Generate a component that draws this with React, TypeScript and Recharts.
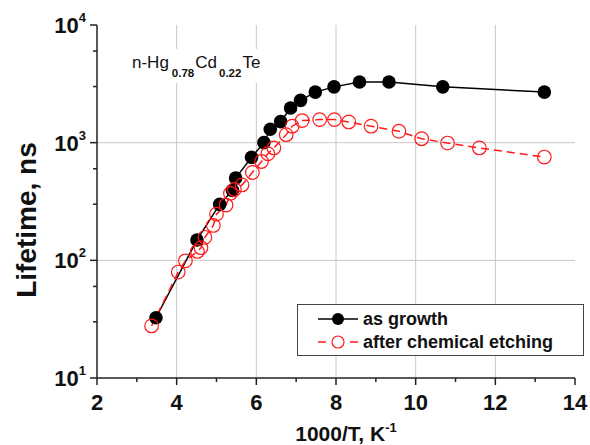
import React from 'react';
import { LineChart, Line, XAxis, YAxis, ReferenceLine } from 'recharts';

// 1000/T (K^-1) vs lifetime (ns)
const growthX = [3.48, 4.51, 5.08, 5.4, 5.48, 5.88, 6.19, 6.35, 6.61, 6.86, 7.11, 7.48, 7.95, 8.59, 9.33, 10.68, 13.23];
const growthY = [32.5, 149, 299, 393, 500, 750, 1000, 1300, 1510, 1970, 2290, 2690, 2980, 3280, 3280, 2980, 2690];

const etchedX = [3.37, 4.04, 4.22, 4.52, 4.61, 4.71, 4.92, 5.0, 5.24, 5.35, 5.45, 5.64, 5.9, 6.13, 6.29, 6.44, 6.75, 6.9, 7.15, 7.59, 7.96, 8.32, 8.88, 9.58, 10.15, 10.8, 11.6, 13.23];
const etchedY = [27.7, 79.5, 99, 119, 128, 157, 198, 247, 295, 370, 400, 437, 558, 692, 805, 902, 1170, 1380, 1540, 1570, 1570, 1500, 1380, 1250, 1080, 993, 902, 755];

const xTicks = [2, 3, 4, 5, 6, 7, 8, 9, 10, 11, 12, 13, 14];
const xGrid = [4, 6, 8, 10, 12];
const yTicks = [
  10, 20, 30, 40, 50, 60, 70, 80, 90,
  100, 200, 300, 400, 500, 600, 700, 800, 900,
  1000, 2000, 3000, 4000, 5000, 6000, 7000, 8000, 9000, 10000,
];
const yGrid = [100, 1000];

const growth = growthX.map((x, i) => ({ x, y: growthY[i] }));
const etched = etchedX.map((x, i) => ({ x, y: etchedY[i] }));

const FONT = '"Liberation Sans", Arial, sans-serif';
const AXIS = '#222';
const RED = '#ff1a1a';

const XTick = (props: any) => {
  const { x, y, payload } = props;
  const major = payload.value % 2 === 0;
  return (
    <g>
      <line x1={x} x2={x} y1={y} y2={y + (major ? 7 : 4)} stroke={AXIS} strokeWidth={1.5} />
      {major && (
        <text x={x} y={y + 32} textAnchor="middle" fontSize={22} fontWeight="bold" fill="#111" fontFamily={FONT}>
          {payload.value}
        </text>
      )}
    </g>
  );
};

const YTick = (props: any) => {
  const { x, y, payload } = props;
  const lg = Math.log10(payload.value);
  const exp = Math.round(lg);
  const major = Math.abs(lg - exp) < 1e-6;
  return (
    <g>
      <line x1={x} x2={x - (major ? 7 : 4)} y1={y} y2={y} stroke={AXIS} strokeWidth={1.5} />
      {major && (
        <text x={x - 11} y={y + 8} textAnchor="end" fill="#111" fontFamily={FONT} fontWeight="bold">
          <tspan fontSize={22}>10</tspan>
          <tspan fontSize={13} dy={-11}>{exp}</tspan>
        </text>
      )}
    </g>
  );
};

const App = () => {
  return (
    <div style={{ position: 'fixed', left: 0, top: 0, width: 590, height: 445, background: '#fff' }}>
      <LineChart width={590} height={445} margin={{ top: 25, right: 15, bottom: 0, left: 0 }}>
        <XAxis
          dataKey="x"
          type="number"
          domain={[2, 14]}
          ticks={xTicks}
          allowDataOverflow
          height={67}
          tickSize={0}
          tickMargin={0}
          tickLine={false}
          tick={<XTick />}
          axisLine={{ stroke: AXIS, strokeWidth: 1.5 }}
          label={{
            content: () => (
              <text x={346} y={441} textAnchor="middle" fontSize={21} fontWeight="bold" fill="#111" fontFamily={FONT}>
                1000/T, K<tspan fontSize={13} dy={-9}>-1</tspan>
              </text>
            ),
          }}
        />
        <XAxis xAxisId="top" orientation="top" type="number" domain={[2, 14]} height={0} tick={false} tickLine={false} axisLine={{ stroke: AXIS, strokeWidth: 1.5 }} />
        <YAxis
          type="number"
          scale="log"
          domain={[10, 10000]}
          ticks={yTicks}
          allowDataOverflow
          width={97}
          tickSize={0}
          tickMargin={0}
          tickLine={false}
          tick={<YTick />}
          axisLine={{ stroke: AXIS, strokeWidth: 1.5 }}
          label={{
            content: () => (
              <text x={36} y={220} transform="rotate(-90 36 220)" textAnchor="middle" fontSize={28} fontWeight="bold" fill="#111" fontFamily={FONT}>
                Lifetime, ns
              </text>
            ),
          }}
        />
        <YAxis yAxisId="right" orientation="right" type="number" scale="log" domain={[10, 10000]} width={0} tick={false} tickLine={false} axisLine={{ stroke: AXIS, strokeWidth: 1.5 }} />
        {xGrid.map((v) => (
          <ReferenceLine key={'gx' + v} x={v} stroke="#c8c8c8" strokeWidth={1} />
        ))}
        {yGrid.map((v) => (
          <ReferenceLine key={'gy' + v} y={v} stroke="#c8c8c8" strokeWidth={1} />
        ))}
        <Line
          data={growth}
          dataKey="y"
          name="as growth"
          stroke="#000"
          strokeWidth={1.5}
          dot={{ r: 6.8, fill: '#000', stroke: '#000', strokeWidth: 0 }}
          isAnimationActive={false}
        />
        <Line
          data={etched}
          dataKey="y"
          name="after chemical etching"
          stroke={RED}
          strokeWidth={1.5}
          strokeDasharray="8 5"
          dot={{ r: 6.8, fill: 'none', stroke: RED, strokeWidth: 1.2, strokeDasharray: '' }}
          isAnimationActive={false}
        />
      </LineChart>

      <svg style={{ position: 'absolute', left: 125, top: 49 }} width={150} height={34}>
        <rect x={0} y={0} width={150} height={34} fill="#fff" />
        <text x={7} y={19} fontSize={17} fill="#111" fontFamily={FONT}>
          n-Hg
          <tspan fontSize={11.5} fontWeight="bold" dx={3} dy={9}>0.78</tspan>
          <tspan dx={1} dy={-9}>Cd</tspan>
          <tspan fontSize={11.5} fontWeight="bold" dx={2} dy={9}>0.22</tspan>
          <tspan dx={1} dy={-9}>Te</tspan>
        </text>
      </svg>

      <svg style={{ position: 'absolute', left: 297, top: 304 }} width={287} height={52}>
        <rect x={0.5} y={0.5} width={286} height={51} fill="#fff" stroke="#444" strokeWidth={1} />
        <line x1={21} x2={61} y1={15} y2={15} stroke="#000" strokeWidth={1.5} />
        <circle cx={41} cy={15} r={6} fill="#000" />
        <text x={66} y={21} fontSize={18} fontWeight="bold" fill="#111" fontFamily={FONT}>as growth</text>
        <line x1={21} x2={29} y1={38} y2={38} stroke={RED} strokeWidth={1.5} />
        <line x1={53} x2={61} y1={38} y2={38} stroke={RED} strokeWidth={1.5} />
        <circle cx={41} cy={38} r={6} fill="none" stroke={RED} strokeWidth={1.2} />
        <text x={66} y={44} fontSize={18} fontWeight="bold" fill="#111" fontFamily={FONT}>after chemical etching</text>
      </svg>
    </div>
  );
};

export default App;
